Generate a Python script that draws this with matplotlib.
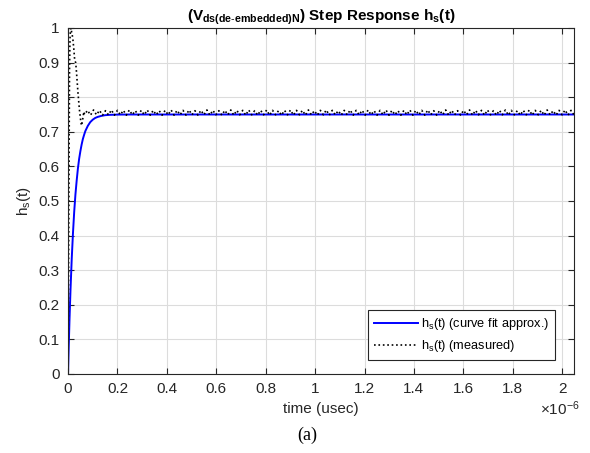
import numpy as np
import matplotlib.pyplot as plt

# curve fit approximation (time in usec, value)
fit_t = [0, 0.003, 0.006, 0.01, 0.015, 0.02, 0.025, 0.03, 0.035, 0.04, 0.045,
         0.05, 0.055, 0.06, 0.065, 0.07, 0.08, 0.09, 0.1, 0.11, 0.12, 0.135,
         0.15, 0.17, 0.2, 0.25, 0.5, 1.0, 1.5, 2.048]
fit_v = [0, 0.083, 0.158, 0.243, 0.333, 0.407, 0.469, 0.519, 0.559, 0.594, 0.622,
         0.644, 0.663, 0.679, 0.691, 0.702, 0.717, 0.728, 0.735, 0.740, 0.743, 0.746,
         0.748, 0.749, 0.7497, 0.75, 0.75, 0.75, 0.75, 0.75]

# measured: initial transient (time in usec, value)
meas_t0 = [0, 0.002, 0.004, 0.006, 0.008, 0.010, 0.012, 0.014, 0.016, 0.018,
           0.020, 0.022, 0.024, 0.026, 0.028, 0.031, 0.034, 0.037, 0.040, 0.043,
           0.046, 0.049, 0.052, 0.055, 0.058, 0.061, 0.064, 0.067]
meas_v0 = [0, 0.30, 0.62, 0.88, 0.97, 0.995, 1.0, 0.99, 0.985, 0.975,
           0.965, 0.95, 0.935, 0.915, 0.905, 0.90, 0.875, 0.845, 0.815, 0.79,
           0.765, 0.745, 0.728, 0.718, 0.730, 0.745, 0.758, 0.750]

# measured: steady-state ripple after the transient (half-period samples)
ripple_v = [
    0.762, 0.748, 0.763, 0.749, 0.762, 0.748, 0.761, 0.749, 0.763, 0.748,
    0.762, 0.749, 0.762, 0.748, 0.763, 0.749, 0.761, 0.748, 0.762, 0.749,
    0.763, 0.748, 0.762, 0.749, 0.761, 0.748, 0.762, 0.749, 0.763, 0.748,
    0.762, 0.749, 0.762, 0.748, 0.763, 0.749, 0.761, 0.748, 0.762, 0.749,
    0.763, 0.748, 0.762, 0.749, 0.761, 0.748, 0.762, 0.749, 0.763, 0.748,
    0.762, 0.749, 0.762, 0.748, 0.763, 0.749, 0.761, 0.748, 0.762, 0.749,
    0.763, 0.748, 0.762, 0.749, 0.761, 0.748, 0.762, 0.749, 0.763, 0.748,
    0.762, 0.749, 0.762, 0.748, 0.763, 0.749, 0.761, 0.748, 0.762, 0.749,
    0.763, 0.748, 0.762, 0.749, 0.761, 0.748, 0.762, 0.749, 0.763, 0.748,
    0.762, 0.749, 0.762, 0.748, 0.763, 0.749, 0.761, 0.748, 0.762, 0.749,
    0.763, 0.748, 0.762, 0.749, 0.761, 0.748, 0.762, 0.749, 0.763, 0.748,
    0.762, 0.749, 0.762, 0.748, 0.763, 0.749, 0.761, 0.748, 0.762, 0.749,
    0.763, 0.748, 0.762, 0.749, 0.761, 0.748, 0.762, 0.749, 0.763, 0.748,
    0.762, 0.749, 0.762, 0.748, 0.763, 0.749, 0.761, 0.748, 0.762, 0.749,
    0.763, 0.748, 0.762, 0.749, 0.761, 0.748, 0.762, 0.749, 0.763, 0.748,
    0.762, 0.749, 0.762, 0.748, 0.763, 0.749, 0.761, 0.748, 0.762, 0.749,
    0.763, 0.748, 0.762, 0.749,
]
ripple_start, ripple_end = 0.079, 2.048  # usec

x_ticks = [0, 0.2, 0.4, 0.6, 0.8, 1.0, 1.2, 1.4, 1.6, 1.8, 2.0]
x_labels = ['0', '0.2', '0.4', '0.6', '0.8', '1', '1.2', '1.4', '1.6', '1.8', '2']
y_ticks = [0, 0.1, 0.2, 0.3, 0.4, 0.5, 0.6, 0.7, 0.8, 0.9, 1.0]
y_labels = ['0', '0.1', '0.2', '0.3', '0.4', '0.5', '0.6', '0.7', '0.8', '0.9', '1']

plt.rcParams['font.family'] = ['Liberation Sans', 'DejaVu Sans']
plt.rcParams['mathtext.fontset'] = 'custom'
plt.rcParams['mathtext.rm'] = 'Liberation Sans'
plt.rcParams['mathtext.it'] = 'Liberation Sans'
plt.rcParams['mathtext.bf'] = 'Liberation Sans:bold'

ripple_t = np.linspace(ripple_start, ripple_end, len(ripple_v))
meas_t = np.concatenate([meas_t0, ripple_t]) * 1e-6
meas_v = np.concatenate([meas_v0, ripple_v])
fit_ts = np.array(fit_t) * 1e-6

fig = plt.figure(figsize=(5.9, 4.53), dpi=100)
ax = fig.add_axes([0.1153, 0.1744, 0.8576, 0.7638])

tc = '#262626'
ax.plot(fit_ts, fit_v, color=(0, 0, 1), linewidth=1.4,
        label=r'h$_\mathrm{s}$(t) (curve fit approx.)')
ax.plot(meas_t, meas_v, color='black', linestyle=':', linewidth=1.2,
        label=r'h$_\mathrm{s}$(t) (measured)')

ax.set_xlim(0, 2.048e-6)
ax.set_ylim(0, 1)
ax.set_xticks(np.array(x_ticks) * 1e-6)
ax.set_xticklabels(x_labels)
ax.set_yticks(y_ticks)
ax.set_yticklabels(y_labels)
# MATLAB-style exponent label under the x tick labels
ax.text(1.012, -0.101, r'$\times10^{-6}$', transform=ax.transAxes,
        ha='right', va='center', fontsize=11, color=tc)

ax.grid(True, color='#dcdcdc', linewidth=0.8)
ax.set_axisbelow(True)
ax.tick_params(direction='in', top=True, right=True, length=4, width=0.8,
               labelsize=11, colors=tc, pad=6)
for s in ax.spines.values():
    s.set_color(tc)
    s.set_linewidth(0.8)

ax.set_xlabel('time (usec)', fontsize=11, color=tc, labelpad=4)
ax.set_ylabel(r'h$_\mathrm{s}$(t)', fontsize=11, color=tc, labelpad=4)
ax.set_title(r'(V$_\mathbf{ds(de\text{-}embedded)N}$) Step Response h$_\mathbf{s}$(t)',
             fontsize=11, fontweight='bold', color='black', pad=5)

leg = ax.legend(loc='lower right', bbox_to_anchor=(0.963, 0.04), fontsize=9.2,
                fancybox=False, framealpha=1, edgecolor=tc, borderpad=0.45,
                handlelength=3.4, handletextpad=0.3, labelspacing=0.5, borderaxespad=0)
leg.get_frame().set_linewidth(0.8)

fig.text(0.52, 0.04, '(a)', fontsize=13, family='Liberation Serif',
         ha='center', va='center')

fig.savefig('out.png', dpi=100)
